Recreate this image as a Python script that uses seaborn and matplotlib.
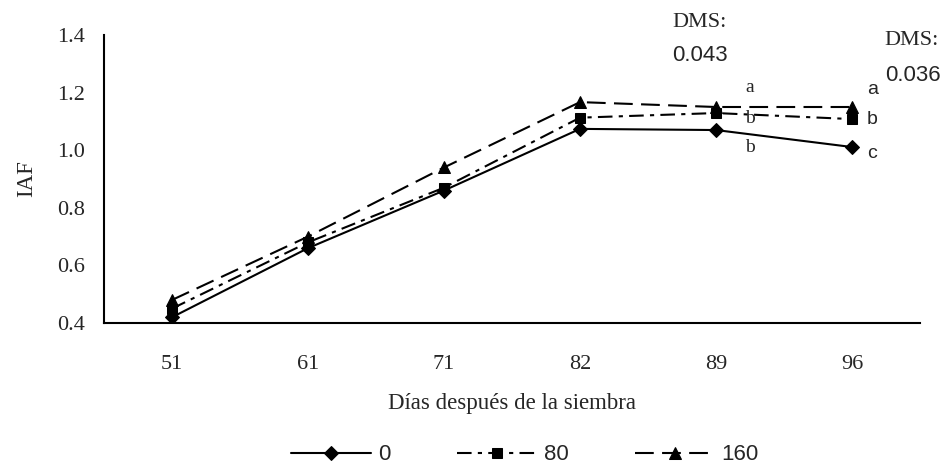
import matplotlib
matplotlib.use("Agg")
import matplotlib.pyplot as plt
import seaborn as sns
import pandas as pd
import numpy as np

days = ["51", "61", "71", "82", "89", "96"]
s0 = [0.42, 0.66, 0.86, 1.074, 1.07, 1.011]
s80 = [0.45, 0.68, 0.87, 1.113, 1.129, 1.108]
s160 = [0.48, 0.70, 0.94, 1.167, 1.15, 1.15]
series_names = ["0", "80", "160"]
yticks = [0.4, 0.6, 0.8, 1.0, 1.2, 1.4]

sns.set_style("white")
plt.rcParams["font.family"] = ["Liberation Serif", "DejaVu Serif"]
narrow = ["Liberation Sans Narrow", "Liberation Sans", "DejaVu Sans"]

fig = plt.figure(figsize=(9.49, 4.66), dpi=100)
ax = fig.add_axes([104/949, 1-323/466, (920-104)/949, (323-35)/466])

x = np.arange(len(days))
styles = {
    "0": dict(ls="-", marker="D", ms=7),
    "80": dict(ls=(0, (7, 3, 2, 3)), marker="s", ms=7.5),
    "160": dict(ls=(0, (9, 4)), marker="^", ms=9),
}
data = {"0": s0, "80": s80, "160": s160}
for name in series_names:
    df = pd.DataFrame({"x": x, "y": data[name]})
    st = styles[name]
    sns.lineplot(data=df, x="x", y="y", ax=ax, color="black", lw=1.5,
                 linestyle=st["ls"], marker=st["marker"], markersize=st["ms"],
                 markeredgecolor="black", markerfacecolor="black", label=name)

ax.set_xlim(-0.5, len(days) - 0.5)
ax.set_ylim(0.4, 1.4)
ax.set_yticks(yticks)
ax.set_yticklabels([f"{v:.1f}" for v in yticks], fontsize=16)
ax.set_xticks(np.arange(-0.5, len(days), 1.0))
ax.set_xticklabels([])
ax.set_xticks(x, minor=True)
ax.set_xticklabels(days, minor=True, fontsize=16)
ax.tick_params(axis="x", which="major", direction="out", length=7, width=1.2, color="black")
ax.tick_params(axis="x", which="minor", length=0, pad=23)
ax.tick_params(axis="y", direction="out", length=6, width=1.2, color="black", pad=8)
for sp in ["top", "right"]:
    ax.spines[sp].set_visible(False)
for sp in ["left", "bottom"]:
    ax.spines[sp].set_color("black")
    ax.spines[sp].set_linewidth(1.5)
ax.set_xlabel("Días después de la siembra", fontsize=16.5, labelpad=14)
ax.set_ylabel("IAF", fontsize=16.5, labelpad=14)

ax.text(4.25, 1.216, "a", fontsize=14, ha="center", va="center")
ax.text(4.25, 1.11, "b", fontsize=14, ha="center", va="center")
ax.text(4.25, 1.008, "b", fontsize=14, ha="center", va="center")
ax.text(5.15, 1.21, "a", fontsize=14, ha="center", va="center", family=narrow)
ax.text(5.15, 1.108, "b", fontsize=14, ha="center", va="center", family=narrow)
ax.text(5.15, 0.987, "c", fontsize=14, ha="center", va="center", family=narrow)
ax.text(3.68, 1.445, "DMS:", fontsize=16, ha="left", va="center", clip_on=False)
ax.text(3.68, 1.33, "0.043", fontsize=16, ha="left", va="center", family=narrow)
ax.text(5.24, 1.38, "DMS:", fontsize=16, ha="left", va="center", clip_on=False)
ax.text(5.24, 1.261, "0.036", fontsize=16, ha="left", va="center", family=narrow, clip_on=False)

leg = ax.legend(loc="center", bbox_to_anchor=(0.516, -0.458), ncol=3, frameon=False,
                handlelength=3.6, columnspacing=3.0, handletextpad=0.3,
                prop={"family": narrow, "size": 16})

fig.savefig("out.png", dpi=100)
